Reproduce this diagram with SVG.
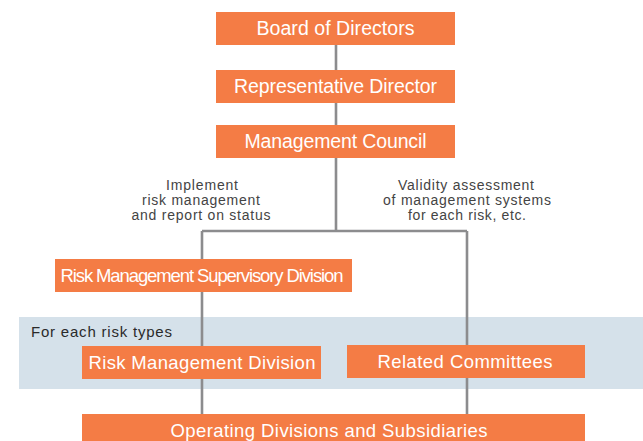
<svg xmlns="http://www.w3.org/2000/svg" width="643" height="441" viewBox="0 0 643 441">
<style>
.box{fill:#F47C45}
.lbl{font-family:"Liberation Sans",Arial,sans-serif;font-size:19.5px;fill:#fff;text-anchor:middle}
.cond{font-size:18.5px}
.note{font-family:"Liberation Sans",Arial,sans-serif;font-size:14px;fill:#444;text-anchor:middle}
.conn{stroke:#8C8C8E;stroke-width:2.6;fill:none}
</style>
<rect x="19" y="317" width="624" height="72" fill="#D5E1EA"/>
<text x="31" y="337" font-family="'Liberation Sans',Arial,sans-serif" font-size="15" fill="#2a2a2a" textLength="141">For each risk types</text>
<g id="connectors">
<path class="conn" d="M336 44V231M202 231H467M202 231V414M467 231V414"/>
</g>
<g id="board"><rect class="box" x="216" y="12" width="239" height="33"/><text class="lbl" x="335.5" y="35" textLength="158">Board of Directors</text></g>
<g id="rep"><rect class="box" x="216" y="70" width="239" height="33"/><text class="lbl" x="335.5" y="93" textLength="203">Representative Director</text></g>
<g id="council"><rect class="box" x="216" y="125" width="239" height="33"/><text class="lbl" x="335.5" y="148" textLength="182">Management Council</text></g>
<g id="note-left"><text class="note" x="202" y="190" textLength="72">Implement</text><text class="note" x="201" y="205" textLength="118">risk management</text><text class="note" x="201" y="219.5" textLength="139">and report on status</text></g>
<g id="note-right"><text class="note" x="466" y="190" textLength="136">Validity assessment</text><text class="note" x="467" y="205" textLength="168">of management systems</text><text class="note" x="467" y="219.5" textLength="118">for each risk, etc.</text></g>
<g id="rmsd"><rect class="box" x="55" y="259" width="297" height="33"/><text class="lbl cond" x="202" y="282" textLength="283">Risk Management Supervisory Division</text></g>
<g id="rmd"><rect class="box" x="82" y="346" width="239" height="33"/><text class="lbl cond" x="202" y="368.5" textLength="227">Risk Management Division</text></g>
<g id="rc"><rect class="box" x="347" y="345" width="238" height="33"/><text class="lbl cond" x="465" y="368" textLength="175">Related Committees</text></g>
<g id="ods"><rect class="box" x="82" y="414" width="503" height="30"/><text class="lbl cond" x="329" y="437" textLength="317">Operating Divisions and Subsidiaries</text></g>
</svg>
